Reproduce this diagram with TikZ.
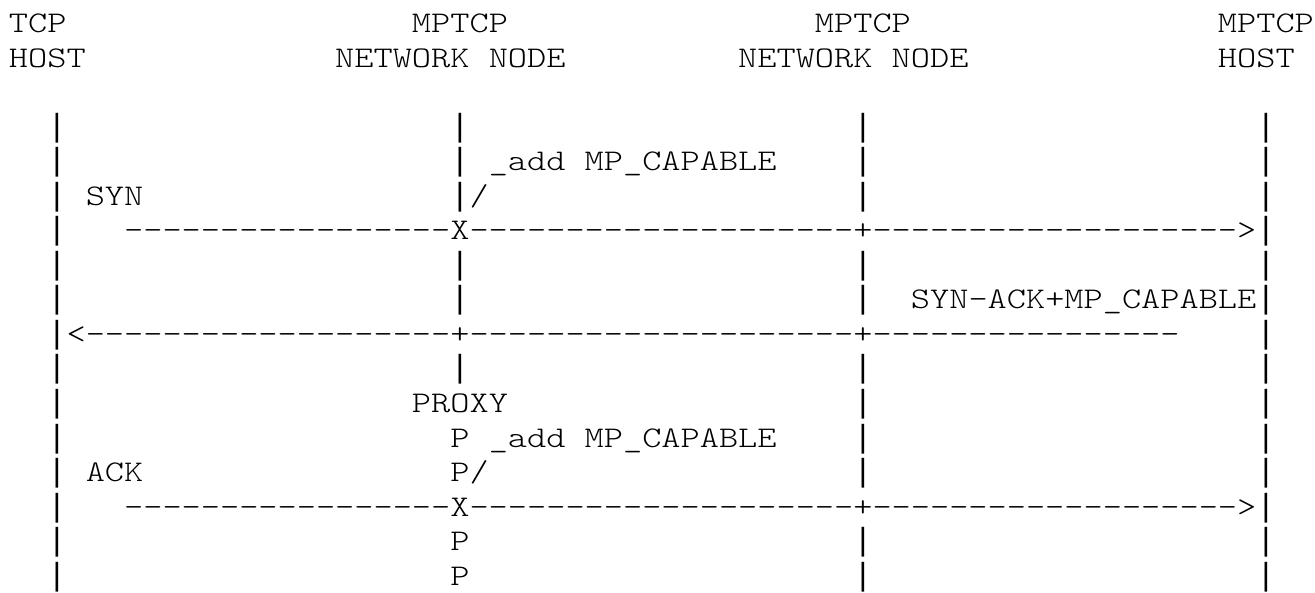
\documentclass[tikz,border=0pt]{standalone}
\usepackage{fontspec}
\newfontfamily\ascfont[FakeStretch=1.2184]{lmmonolt10-regular.otf}
\newfontfamily\barfont{Liberation Mono}
\ExplSyntaxOn
\NewDocumentCommand\dsh{m}{\prg_replicate:nn{#1}{-}}
\ExplSyntaxOff
\tikzset{
  asc/.style={anchor=base west, inner sep=0pt, outer sep=0pt, text=black,
    font=\ascfont\fontsize{30pt}{34.5pt}\selectfont},
  vbar/.style={anchor=base west, inner sep=0pt, outer sep=0pt, text=black,
    font=\barfont\fontsize{32pt}{34.5pt}\selectfont},
}
\begin{document}
\begin{tikzpicture}
\useasboundingbox[fill=white] (0pt,0pt) rectangle (1315pt,-593pt);
\begin{scope}[shift={(9pt,-33pt)}, x=19.19pt, y=-34.5pt]
% headers
\node[asc] (tcp)   at (0,0)  {TCP};
\node[asc] (mp1)   at (21,0) {MPTCP};
\node[asc] (mp2)   at (42,0) {MPTCP};
\node[asc] (mp3)   at (63,0) {MPTCP};
\node[asc] (host1) at (0,1)  {HOST};
\node[asc] (nn1)   at (17,1) {NETWORK NODE};
\node[asc] (nn2)   at (38,1) {NETWORK NODE};
\node[asc] (host2) at (63,1) {HOST};
% lifelines
\foreach \r in {3,4,5,7,8,10}
  \foreach \c in {2,23,44,65}
    \node[vbar] (b\r-\c) at (\c,\r) {|};
\foreach \r in {6,9,14}
  \foreach \c in {2,65}
    \node[vbar] (b\r-\c) at (\c,\r) {|};
\foreach \r in {11,12,13,15,16}
  \foreach \c in {2,44,65}
    \node[vbar] (b\r-\c) at (\c,\r) {|};
% SYN
\node[asc] (add1) at (25,4) {\_add MP\_CAPABLE};
\node[asc] (syn)  at (4,5)  {SYN};
\node[asc] (sl1)  at (24,5) {/};
\node[asc] (synline) at (6,6) {\dsh{17}X\dsh{20}+\dsh{19}>};
% SYN-ACK
\node[asc] (synack) at (47,8) {SYN-ACK+MP\_CAPABLE};
\node[asc] (synackline) at (3,9) {<\dsh{19}+\dsh{20}+\dsh{16}};
% ACK
\node[asc] (proxy) at (21,11) {PROXY};
\node[asc] (p1)    at (23,12) {P};
\node[asc] (add2)  at (25,12) {\_add MP\_CAPABLE};
\node[asc] (ack)   at (4,13)  {ACK};
\node[asc] (p2)    at (23,13) {P/};
\node[asc] (ackline) at (6,14) {\dsh{17}X\dsh{20}+\dsh{19}>};
\node[asc] (p3)    at (23,15) {P};
\node[asc] (p4)    at (23,16) {P};
\end{scope}
\end{tikzpicture}
\end{document}
